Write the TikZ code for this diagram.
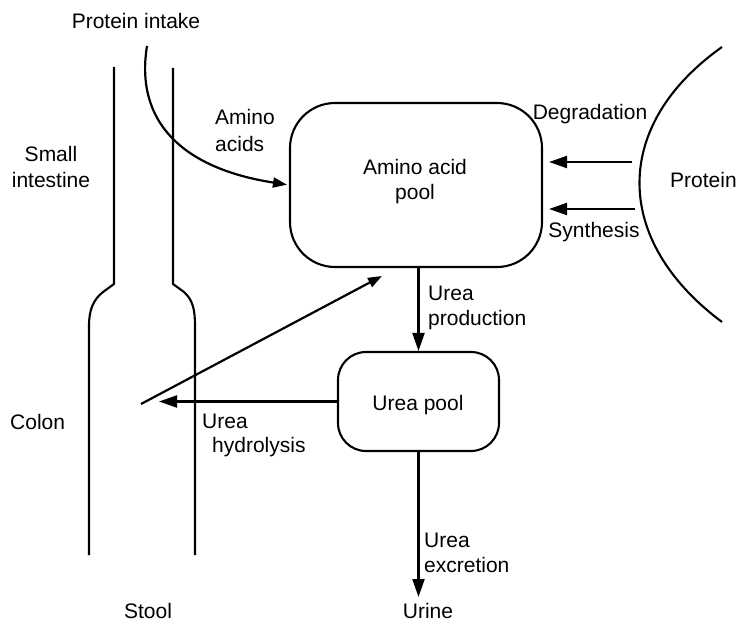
\documentclass[tikz,border=0pt]{standalone}
\usepackage{fontspec}
\setmainfont{Liberation Sans}
\usetikzlibrary{arrows.meta}
\begin{document}
\begin{tikzpicture}[x=1pt,y=-1pt,
  lbl/.style={font=\fontsize{21}{25}\selectfont, inner sep=0pt},
  wall/.style={line width=2.1pt, line join=round},
  pool/.style={draw, line width=2.1pt, inner sep=0pt},
  flow/.style={line width=2.2pt, -{Triangle[length=18pt,width=12pt]}},
  smallflow/.style={line width=2.2pt, -{Triangle[length=14pt,width=10pt]}}
]
\useasboundingbox (0,0) rectangle (737,623);

% intestine / colon tube
\draw[wall] (114,67) -- (114,284) -- (103,292) .. controls (93,300) and (89,310) .. (89,326) -- (89,555);
\draw[wall] (173,68) -- (173,284) -- (184,292) .. controls (193,300) and (195,310) .. (195,326) -- (195,555);

% protein compartment
\draw[wall] (722,47) .. controls (612,125) and (612,240) .. (722,322);

% pools
\node[pool, rounded corners=45pt, minimum width=252pt, minimum height=164pt] (aap) at (416,185) {};
\node[pool, rounded corners=28pt, minimum width=161pt, minimum height=99pt] (up) at (418.5,401.5) {};

% coordinates
\coordinate (intake) at (147,46);
\coordinate (dg0) at (632,162);
\coordinate (sy0) at (635,209);
\coordinate (colontip) at (159,401.5);
\coordinate (colonstart) at (141,404);
\coordinate (diagtip) at (382,276);
\coordinate (urinetip) at (418.5,597);

% connectors
\draw[smallflow, shorten >=2pt] (intake) .. controls (135,120) and (180,168) .. (aap.west);
\draw[flow, shorten >=6pt] (dg0) -- (dg0 -| aap.east);
\draw[flow, shorten >=6pt] (sy0) -- (sy0 -| aap.east);
\draw[flow] (up.north |- aap.south) -- (up.north);
\draw[flow] (up.west) -- (colontip);
\draw[smallflow] (colonstart) -- (diagtip);
\draw[flow] (up.south) -- (urinetip);

% labels
\node[lbl, anchor=base] (aaptxt1) at (415,175) {Amino acid};
\node[lbl, anchor=base] (aaptxt2) at (415,200) {pool};
\node[lbl, anchor=base] (uptxt) at (418,410) {Urea pool};
\node[lbl, anchor=base] (intaketxt) at (136,29) {Protein intake};
\node[lbl, anchor=base west] (amino) at (215,125) {Amino};
\node[lbl, anchor=base west] (acids) at (215,152) {acids};
\node[lbl, anchor=base] (small) at (51,162) {Small};
\node[lbl, anchor=base] (intestine) at (51,188) {intestine};
\node[lbl, anchor=base west] (colon) at (10,429) {Colon};
\node[lbl, anchor=base] (stool) at (148,618) {Stool};
\node[lbl, anchor=base] (urine) at (428,618) {Urine};
\node[lbl, anchor=base] (degr) at (590,120) {Degradation};
\node[lbl, anchor=base] (synth) at (594,237) {Synthesis};
\node[lbl, anchor=base west] (protein) at (670,188) {Protein};
\node[lbl, anchor=base west] (uprod1) at (428,300) {Urea};
\node[lbl, anchor=base west] (uprod2) at (428,325) {production};
\node[lbl, anchor=base west] (uhyd1) at (202,428) {Urea};
\node[lbl, anchor=base west] (uhyd2) at (212,452) {hydrolysis};
\node[lbl, anchor=base west] (uexc1) at (424,547) {Urea};
\node[lbl, anchor=base west] (uexc2) at (424,572) {excretion};
\end{tikzpicture}
\end{document}
